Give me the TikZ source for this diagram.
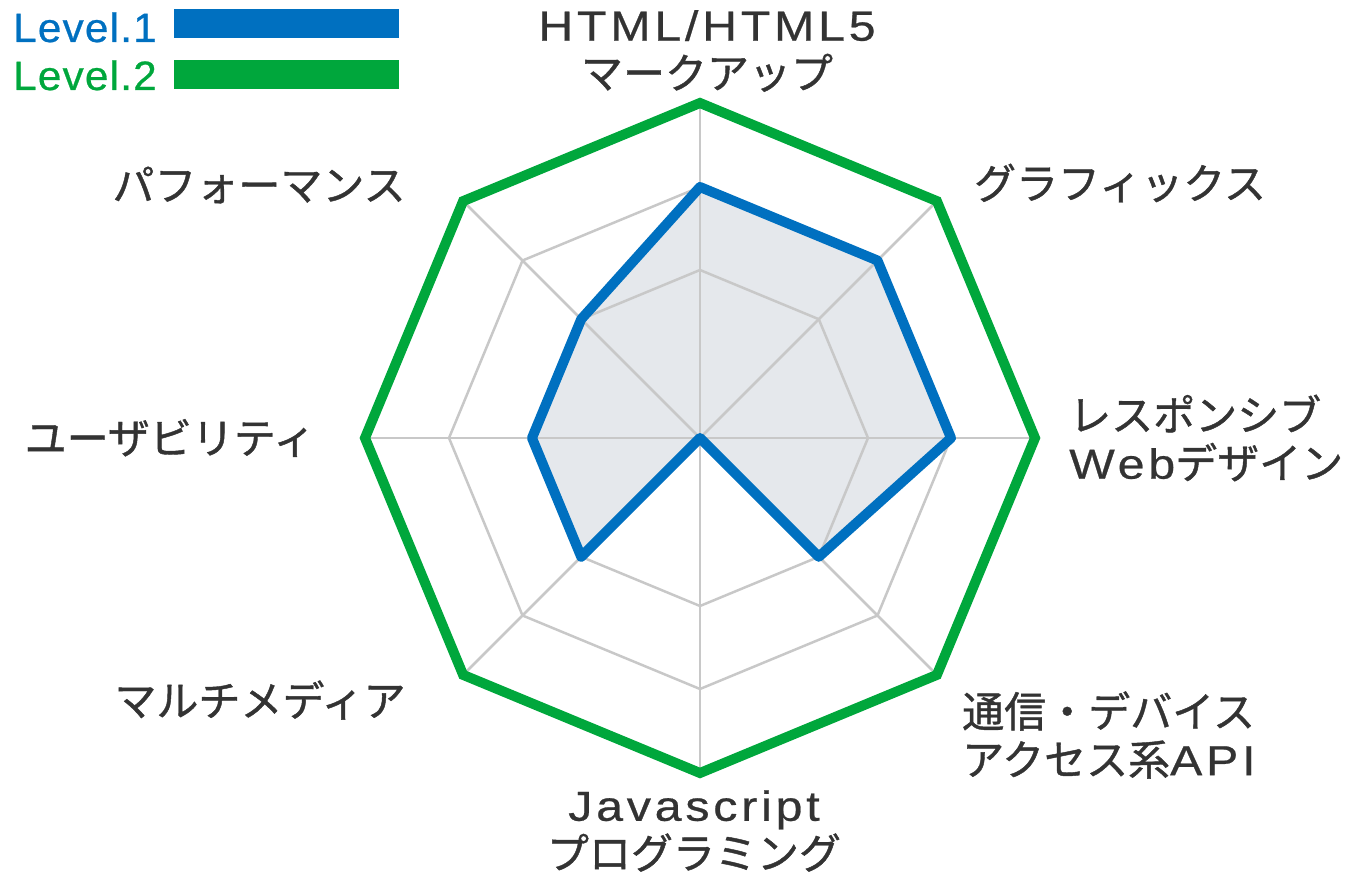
\documentclass[tikz,border=0pt]{standalone}
\usepackage{fontspec}
\setmainfont{Noto Sans CJK JP}[FakeBold=1]
\newfontfamily\latinfont[LetterSpace=9,FakeStretch=1.15,FakeBold=0.6]{Liberation Sans}
\newfontfamily\legendfont[LetterSpace=3,FakeStretch=1.03,FakeBold=0.6]{Liberation Sans}
\usetikzlibrary{calc}
\definecolor{lvlblue}{HTML}{0070C0}
\definecolor{lvlgreen}{HTML}{00A73C}
\definecolor{gridgray}{HTML}{C8C8C8}
\definecolor{txtgray}{HTML}{333333}
\definecolor{areafill}{HTML}{E5E8EC}
\newcommand\enlat[1]{{\latinfont #1}}
\begin{document}
\begin{tikzpicture}[x=1pt,y=-1pt,
  lbl/.style={inner sep=0pt, text=txtgray, font=\fontsize{42}{48}\selectfont},
  legtext/.style={inner sep=0pt, anchor=base west, font=\legendfont\fontsize{41}{48}\selectfont},
  legbar/.style={inner sep=0pt, anchor=north west, minimum width=225pt, minimum height=29pt},
  gridline/.style={draw=gridgray, line width=2.5pt},
  level1/.style={draw=lvlblue, line width=10pt, line join=round},
  level2/.style={draw=lvlgreen, line width=10pt, line join=miter}]
\useasboundingbox (0,0) rectangle (1370,874);
\coordinate (O) at (700,438);
\foreach \a [count=\i] in {-90,-45,0,45,90,135,180,225} {
  \coordinate (g\i) at ($(O)+(\a:335)$);
  \coordinate (m\i) at ($(O)+(\a:251)$);
  \coordinate (h\i) at ($(O)+(\a:168)$);
}
% level 1 area
\fill[areafill] (m1) -- (m2) -- (m3) -- (h4) -- (O) -- (h6) -- (h7) -- (h8) -- cycle;
% grid
\draw[gridline] (h1) -- (h2) -- (h3) -- (h4) -- (h5) -- (h6) -- (h7) -- (h8) -- cycle;
\draw[gridline] (m1) -- (m2) -- (m3) -- (m4) -- (m5) -- (m6) -- (m7) -- (m8) -- cycle;
\foreach \i in {1,...,8} { \draw[gridline] (O) -- (g\i); }
% level 1 outline
\draw[level1] (m1) -- (m2) -- (m3) -- (h4) -- (O) -- (h6) -- (h7) -- (h8) -- cycle;
% level 2 outline
\draw[level2] (g1) -- (g2) -- (g3) -- (g4) -- (g5) -- (g6) -- (g7) -- (g8) -- cycle;
% legend
\node[legtext, text=lvlblue] (leg1) at (13,42) {Level.1};
\node[legbar, fill=lvlblue] (bar1) at (174,9) {};
\node[legtext, text=lvlgreen] (leg2) at (13,90) {Level.2};
\node[legbar, fill=lvlgreen] (bar2) at (174,60) {};
% labels
\node[lbl, align=center] (lab1) at (707,51) {\enlat{HTML/HTML5}\\マークアップ};
\node[lbl] (lab2) at (1120,183) {グラフィックス};
\node[lbl, align=left, anchor=west] (lab3) at (1069,438) {レスポンシブ\\\enlat{Web}デザイン};
\node[lbl, align=left, anchor=west] (lab4) at (962,735) {通信・デバイス\\アクセス系\enlat{API}};
\node[lbl, align=center] (lab5) at (694,831) {\enlat{Javascript}\\プログラミング};
\node[lbl] (lab6) at (260,700) {マルチメディア};
\node[lbl] (lab7) at (170,438) {ユーザビリティ};
\node[lbl] (lab8) at (259,185) {パフォーマンス};
\end{tikzpicture}
\end{document}
